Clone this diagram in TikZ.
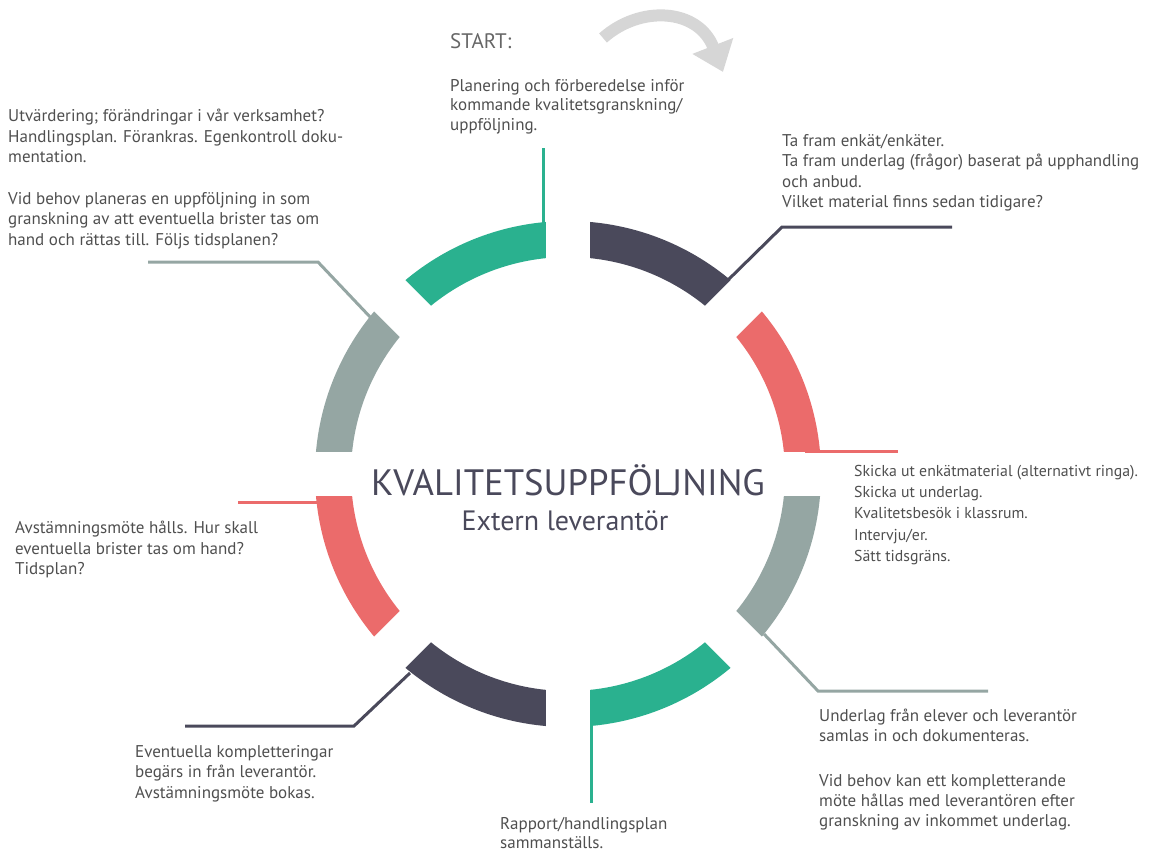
\documentclass[tikz,border=0pt]{standalone}
\usepackage{fontspec}
\setmainfont{PT Sans}
\usetikzlibrary{calc,arrows.meta}
\definecolor{cgreen}{HTML}{2AB18F}
\definecolor{cdark}{HTML}{4A495B}
\definecolor{cred}{HTML}{EB6B6B}
\definecolor{cgrey}{HTML}{95A6A3}
\definecolor{ctext}{HTML}{4F4F4F}
\definecolor{cstart}{HTML}{666666}
\definecolor{carrow}{HTML}{D6D6D6}
\begin{document}
\begin{tikzpicture}[x=1pt,y=1pt,
  txt/.style={anchor=north west, inner sep=0pt, align=left, text=ctext, font=\fontsize{17}{20.5}\selectfont},
  txtsmall/.style={txt, font=\fontsize{15.8}{21.2}\selectfont},
  conn/.style={line width=3pt},
  gapline/.style={white, line width=44pt},
]
\useasboundingbox (0,0) rectangle (1163,-855);
\coordinate (C) at (568,-474);
\def\Ro{253}\def\Ri{217}
% ring segments
\foreach \a/\b/\cc in {90/135/cgreen, 45/90/cdark, 0/45/cred, -45/0/cgrey, -90/-45/cgreen, -135/-90/cdark, 180/225/cred, 135/180/cgrey}{
  \fill[\cc] ($(C)+(\a:\Ro)$) arc[start angle=\a, end angle=\b, radius=\Ro] -- ($(C)+(\b:\Ri)$) arc[start angle=\b, end angle=\a, radius=\Ri] -- cycle;
}
\foreach \a in {0,45,...,315} \draw[gapline] ($(C)+(\a:180)$) -- ($(C)+(\a:300)$);

% centre title
\node[font=\fontsize{36.7}{40}\selectfont, text=cdark, inner sep=0pt] (title) at (568,-480) {KVALITETSUPPFÖLJNING};
\node[font=\fontsize{28}{30}\selectfont, text=cdark, inner sep=0pt] (sub) at (565,-521) {Extern leverantör};

% start arrow
\coordinate (arrA) at (603,-38);
\coordinate (arrB) at (723,-72);
\draw[carrow, line width=12pt, -{Triangle[length=28pt,width=42pt]}] (arrA) .. controls (640,-5) and (698,-8) .. (arrB);

% texts
\node[anchor=north west, inner sep=0pt, text=cstart, font=\fontsize{21}{24}\selectfont] (start) at (450,-33) {START:};
\node[txt, font=\fontsize{17}{19.5}\selectfont] (tplan) at (450,-79) {Planering och förberedelse inför\\kommande kvalitetsgranskning/\\uppföljning.};
\node[txt] (tfram) at (782,-134) {Ta fram enkät/enkäter.\\Ta fram underlag (frågor) baserat på upphandling\\och anbud.\\Vilket material finns sedan tidigare?};
\node[txtsmall] (tskicka) at (854,-465) {Skicka ut enkätmaterial (alternativt ringa).\\Skicka ut underlag.\\Kvalitetsbesök i klassrum.\\Intervju/er.\\Sätt tidsgräns.};
\node[txt, font=\fontsize{17}{20}\selectfont] (tunder) at (819,-709) {Underlag från elever och leverantör\\samlas in och dokumenteras.\\[25pt]Vid behov kan ett kompletterande\\möte hållas med leverantören efter\\granskning av inkommet underlag.};
\node[txt, font=\fontsize{17}{19.5}\selectfont] (trapp) at (500,-817) {Rapport/handlingsplan\\sammanställs.};
\node[txt] (tevent) at (135,-745) {Eventuella kompletteringar\\begärs in från leverantör.\\Avstämningsmöte bokas.};
\node[txt] (tavst) at (15,-521) {Avstämningsmöte hålls. Hur skall\\eventuella brister tas om hand?\\Tidsplan?};
\node[txt] (tutv) at (8,-109) {Utvärdering; förändringar i vår verksamhet?\\Handlingsplan. Förankras. Egenkontroll doku-\\mentation.\\[21pt]Vid behov planeras en uppföljning in som\\granskning av att eventuella brister tas om\\hand och rättas till. Följs tidsplanen?};

% connectors
\coordinate (c1a) at (543,-245); \coordinate (c1b) at (543,-148);
\draw[conn, cgreen] (c1a) -- (c1b);
\coordinate (c2a) at (727,-281); \coordinate (c2m) at (782,-227); \coordinate (c2b) at (952,-227);
\draw[conn, cdark] (c2a) -- (c2m) -- (c2b);
\coordinate (c3a) at (805,-451); \coordinate (c3b) at (898,-451);
\draw[conn, cred] (c3a) -- (c3b);
\coordinate (c4a) at (764,-634); \coordinate (c4m) at (818,-691); \coordinate (c4b) at (988,-691);
\draw[conn, cgrey] (c4a) -- (c4m) -- (c4b);
\coordinate (c5a) at (591,-700); \coordinate (c5b) at (591,-803);
\draw[conn, cgreen] (c5a) -- (c5b);
\coordinate (c6a) at (410,-673); \coordinate (c6m) at (354,-726); \coordinate (c6b) at (185,-726);
\draw[conn, cdark] (c6a) -- (c6m) -- (c6b);
\coordinate (c7a) at (330,-502); \coordinate (c7b) at (238,-502);
\draw[conn, cred] (c7a) -- (c7b);
\coordinate (c8a) at (372,-319); \coordinate (c8m) at (318,-262); \coordinate (c8b) at (148,-262);
\draw[conn, cgrey] (c8a) -- (c8m) -- (c8b);
\end{tikzpicture}
\end{document}
